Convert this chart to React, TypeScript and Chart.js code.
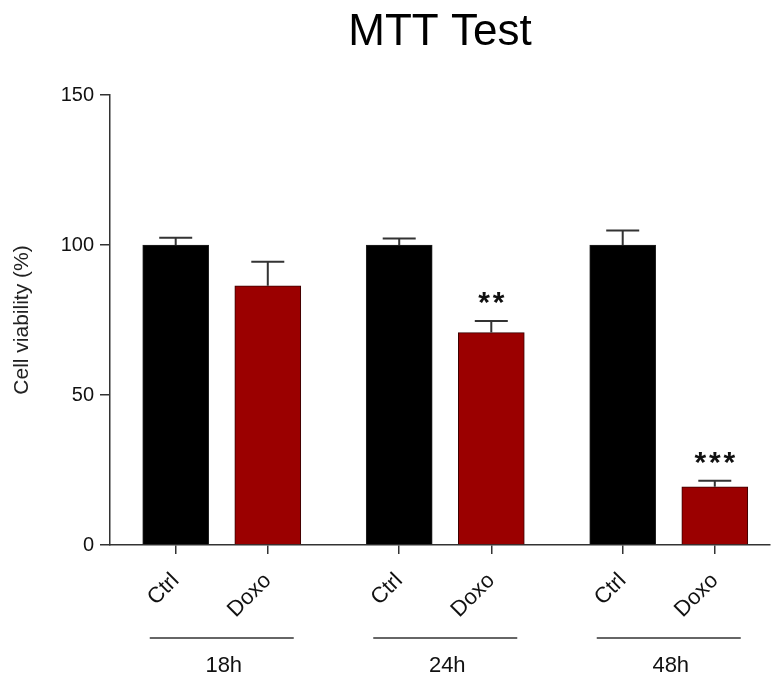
import { useEffect, useRef } from "react";
import { Chart, registerables } from "chart.js";

Chart.register(...registerables);

const timePoints = ["18h", "24h", "48h"];
const conditions = ["Ctrl", "Doxo"];
const ctrlValues = [100, 100, 100];
const ctrlErrors = [2.4, 2.2, 4.8];
const doxoValues = [86.4, 70.8, 19.4];
const doxoErrors = [8.0, 3.9, 2.0];
const doxoSignificance = ["", "**", "***"];
const yTicks = [0, 50, 100, 150];

const FONT = "'Liberation Sans', Arial, sans-serif";
const BAR_OFFSET = 0.206;
const X_MAX = 2.953;

const ctrlX = timePoints.map((_, i) => i + 0.5 - BAR_OFFSET);
const doxoX = timePoints.map((_, i) => i + 0.5 + BAR_OFFSET);
const tickPositions = timePoints.flatMap((_, i) => [ctrlX[i], doxoX[i]]);

const annotationPlugin = {
  id: "errorBarsAndGroups",
  afterDatasetsDraw(chart: any) {
    const ctx = chart.ctx;
    const xs = chart.scales.x;
    const ys = chart.scales.y;
    ctx.save();
    ctx.strokeStyle = "#333";
    ctx.lineWidth = 2;
    chart.data.datasets.forEach((ds: any) => {
      ds.data.forEach((pt: any, i: number) => {
        const px = xs.getPixelForValue(pt.x);
        const base = ys.getPixelForValue(pt.y);
        const top = ys.getPixelForValue(pt.y + ds.errors[i]);
        ctx.beginPath();
        ctx.moveTo(px, base);
        ctx.lineTo(px, top);
        ctx.moveTo(px - 16.5, top);
        ctx.lineTo(px + 16.5, top);
        ctx.stroke();
        const sig = ds.significance ? ds.significance[i] : "";
        if (sig) {
          ctx.fillStyle = "#111";
          ctx.font = `bold 30px ${FONT}`;
          ctx.textAlign = "center";
          ctx.textBaseline = "alphabetic";
          const step = 14.5;
          const start = px - ((sig.length - 1) * step) / 2;
          for (let k = 0; k < sig.length; k++) {
            ctx.fillText(sig[k], start + k * step, top - 9);
          }
        }
      });
    });
    ctx.restore();
  },
  afterDraw(chart: any) {
    const ctx = chart.ctx;
    const xs = chart.scales.x;
    ctx.save();
    ctx.strokeStyle = "#333";
    ctx.lineWidth = 1.5;
    ctx.fillStyle = "#111";
    ctx.font = `22px ${FONT}`;
    ctx.textAlign = "center";
    ctx.textBaseline = "middle";
    timePoints.forEach((label, i) => {
      const cx = xs.getPixelForValue(i + 0.5);
      ctx.beginPath();
      ctx.moveTo(cx - 72, 638);
      ctx.lineTo(cx + 72, 638);
      ctx.stroke();
      ctx.fillText(label, cx + 2, 666);
    });
    ctx.restore();
  },
};

export default function App() {
  const canvasRef = useRef<HTMLCanvasElement | null>(null);

  useEffect(() => {
    if (!canvasRef.current) return;
    const chart = new Chart(canvasRef.current, {
      type: "bar",
      data: {
        datasets: [
          {
            label: conditions[0],
            data: ctrlX.map((x, i) => ({ x, y: ctrlValues[i] })),
            backgroundColor: "#000000",
            borderColor: "#222222",
            borderWidth: 1,
            barThickness: 66,
            grouped: false,
            errors: ctrlErrors,
          } as any,
          {
            label: conditions[1],
            data: doxoX.map((x, i) => ({ x, y: doxoValues[i] })),
            backgroundColor: "#9b0000",
            borderColor: "#3a0000",
            borderWidth: 1,
            barThickness: 66,
            grouped: false,
            errors: doxoErrors,
            significance: doxoSignificance,
          } as any,
        ],
      },
      options: {
        responsive: false,
        animation: false,
        layout: { padding: { right: 1 } },
        plugins: {
          legend: { display: false },
          tooltip: { enabled: false },
          title: {
            display: true,
            text: "MTT Test",
            fullSize: false,
            color: "#000",
            font: { family: FONT, size: 44, weight: "normal" },
            padding: { top: 6, bottom: 36.2 },
          },
        },
        scales: {
          x: {
            type: "linear",
            min: 0,
            max: X_MAX,
            offset: false,
            afterBuildTicks: (s: any) => {
              s.ticks = tickPositions.map((v) => ({ value: v }));
            },
            afterFit: (s: any) => {
              s.height = 132;
            },
            ticks: {
              autoSkip: false,
              minRotation: 45,
              maxRotation: 45,
              color: "#111",
              font: { family: FONT, size: 22 },
              padding: 14,
              callback: (_v: any, i: number) => conditions[i % 2],
            },
            grid: {
              offset: false,
              drawOnChartArea: false,
              drawTicks: true,
              tickLength: 9,
              color: "#333",
              lineWidth: 1.5,
            },
            border: { display: true, color: "#333", width: 1.5 },
          },
          y: {
            min: 0,
            max: 150,
            afterBuildTicks: (s: any) => {
              s.ticks = yTicks.map((v) => ({ value: v }));
            },
            afterFit: (s: any) => {
              s.width = 110;
            },
            ticks: {
              color: "#111",
              font: { family: FONT, size: 20 },
              padding: 6,
            },
            grid: {
              drawOnChartArea: false,
              tickLength: 10,
              color: "#333",
              lineWidth: 1.5,
            },
            border: { display: true, color: "#333", width: 1.5 },
            title: {
              display: true,
              text: "Cell viability (%)",
              color: "#222",
              font: { family: FONT, size: 21 },
              padding: { top: 10, bottom: 0 },
            },
          },
        },
      } as any,
      plugins: [annotationPlugin],
    });
    return () => chart.destroy();
  }, []);

  return (
    <canvas
      ref={canvasRef}
      width={771}
      height={677}
      style={{ position: "absolute", left: 0, top: 0, display: "block" }}
    />
  );
}
